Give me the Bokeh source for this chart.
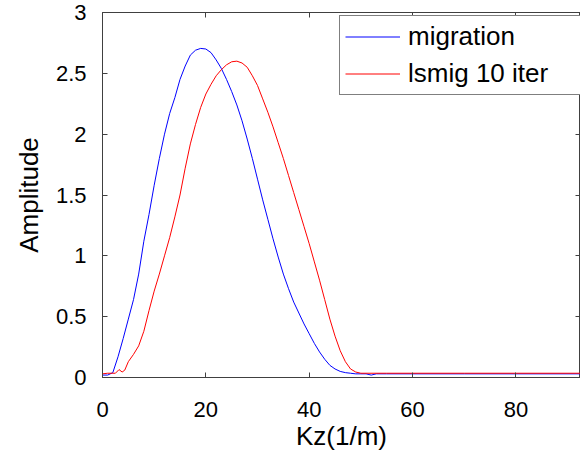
from bokeh.plotting import figure
from bokeh.models import LinearAxis, FixedTicker, Range1d
from bokeh.embed import file_html
from bokeh.resources import INLINE

# ---- data ----
kz_mig = [0, 1, 2, 3, 4, 5, 6, 7, 8, 9, 10, 11, 12, 13, 14, 15, 16, 17, 18, 19, 20,
          21, 22, 23, 24, 25, 26, 27, 28, 29, 30, 31, 32, 33, 34, 35, 36, 37, 38, 39, 40,
          41, 42, 43, 44, 45, 46, 47, 48, 49, 50, 51, 52, 53, 55, 60, 70, 80, 93]
amp_mig = [0.02, 0.02, 0.04, 0.17, 0.32, 0.48, 0.64, 0.85, 1.12, 1.34, 1.58, 1.80, 2.00, 2.17, 2.30, 2.45,
           2.56, 2.65, 2.69, 2.705, 2.70, 2.67, 2.61, 2.54, 2.45, 2.35, 2.24, 2.11, 1.96, 1.80, 1.63,
           1.46, 1.30, 1.14, 0.99, 0.85, 0.73, 0.62, 0.53, 0.44, 0.36, 0.28, 0.21, 0.15, 0.10, 0.07,
           0.05, 0.04, 0.035, 0.03, 0.03, 0.03, 0.02, 0.03, 0.03, 0.03, 0.03, 0.03, 0.03]

kz_ls = [0, 1, 2, 2.5, 3.2, 3.8, 4.3, 5, 6, 7, 8, 9, 10, 11, 12, 13, 14, 15, 16, 17, 18, 19, 20,
         21, 22, 23, 24, 25, 26, 27, 28, 29, 30, 31, 32, 33, 34, 35, 36, 37, 38, 39, 40,
         41, 42, 43, 44, 45, 46, 47, 48, 49, 50, 55, 60, 70, 80, 93]
amp_ls = [0.03, 0.035, 0.035, 0.035, 0.065, 0.045, 0.06, 0.13, 0.19, 0.26, 0.38, 0.55, 0.71, 0.85,
          1.00, 1.15, 1.32, 1.50, 1.72, 1.92, 2.08, 2.22, 2.33, 2.41, 2.48, 2.53, 2.57, 2.595, 2.60,
          2.585, 2.55, 2.48, 2.40, 2.29, 2.18, 2.06, 1.93, 1.80, 1.66, 1.52, 1.38, 1.24, 1.10,
          0.95, 0.80, 0.64, 0.48, 0.34, 0.22, 0.13, 0.07, 0.045, 0.035, 0.035, 0.035, 0.035, 0.035, 0.035]

series_names = ["migration", "lsmig 10 iter"]
x_ticks = [0, 20, 40, 60, 80]
y_ticks = [0, 0.5, 1, 1.5, 2, 2.5, 3]
y_tick_labels = ["0", "0.5", "1", "1.5", "2", "2.5", "3"]
x_label = "Kz(1/m)"
y_label = "Amplitude"

FONT = "Liberation Sans"
FRAME = "#404040"

p = figure(width=580, height=453, output_backend="svg", toolbar_location=None,
           x_range=Range1d(0, 92.5), y_range=Range1d(0, 3),
           min_border_left=102, min_border_top=12, min_border_bottom=76, min_border_right=0)
p.background_fill_color = "white"
p.border_fill_color = "white"
p.outline_line_color = FRAME
p.outline_line_width = 1
p.xgrid.visible = False
p.ygrid.visible = False

p.line(kz_mig, amp_mig, line_color="#0000ff", line_width=1, legend_label=series_names[0])
p.line(kz_ls, amp_ls, line_color="#ff0000", line_width=1, legend_label=series_names[1])

def style_axis(ax, ticks, labels=True):
    ax.ticker = FixedTicker(ticks=ticks)
    ax.axis_line_color = FRAME
    ax.major_tick_line_color = FRAME
    ax.major_tick_in = 5
    ax.major_tick_out = 0
    ax.minor_tick_line_color = None
    ax.major_label_text_font = FONT
    ax.major_label_text_color = "black"
    ax.axis_label_text_font = FONT
    ax.axis_label_text_font_style = "normal"
    ax.axis_label_text_color = "black"
    if not labels:
        ax.major_label_overrides = {t: "" for t in ticks}
        ax.major_label_text_font_size = "1px"
        ax.major_label_standoff = 0
        ax.axis_line_color = None

xa = p.xaxis[0]
style_axis(xa, x_ticks)
xa.major_label_text_font_size = "22px"
xa.major_label_standoff = 24
xa.axis_label = x_label
xa.axis_label_text_font_size = "26px"
xa.axis_label_standoff = 1

ya = p.yaxis[0]
style_axis(ya, y_ticks)
ya.major_label_overrides = dict(zip(y_ticks, y_tick_labels))
ya.major_label_text_font_size = "22px"
ya.major_label_standoff = 16
ya.axis_label = y_label
ya.axis_label_text_font_size = "26px"
ya.axis_label_standoff = 9

top_ax = LinearAxis()
style_axis(top_ax, x_ticks, labels=False)
p.add_layout(top_ax, "above")
right_ax = LinearAxis()
style_axis(right_ax, y_ticks, labels=False)
p.add_layout(right_ax, "right")

lg = p.legend[0]
lg.location = (237, 282)
lg.border_line_color = "black"
lg.border_line_width = 1
lg.background_fill_color = "white"
lg.background_fill_alpha = 1
lg.label_text_font = FONT
lg.label_text_font_size = "26px"
lg.label_text_color = "black"
lg.padding = 5
lg.spacing = 6
lg.glyph_width = 55
lg.glyph_height = 25
lg.label_height = 25
lg.label_standoff = 8
lg.label_width = 167
lg.margin = 0

open("out.html", "w").write(file_html(p, INLINE))
